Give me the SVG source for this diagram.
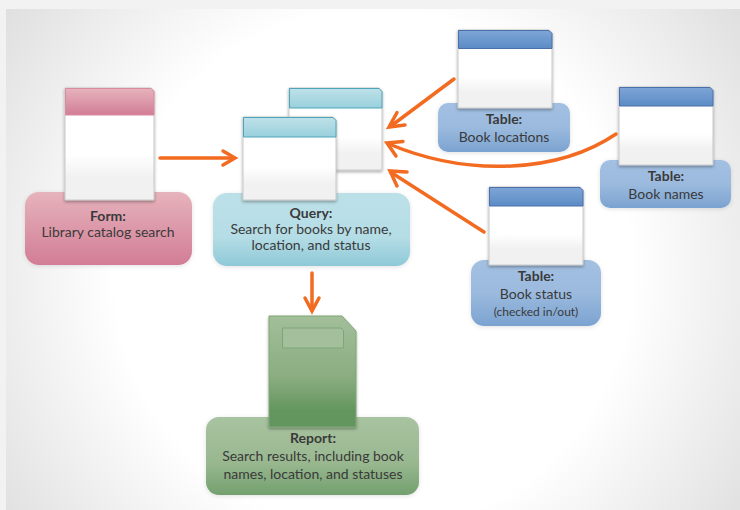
<svg xmlns="http://www.w3.org/2000/svg" width="740" height="510" viewBox="0 0 740 510">
<style>
text{font-family:"Lato","Open Sans","Liberation Sans",sans-serif;font-size:14px;fill:#3a3a3a;text-anchor:middle}
.b{font-weight:700}
.s{font-size:12px}
.win{fill:url(#wb);stroke:#c8c8c8;stroke-width:1;filter:url(#sh)}
.lab{filter:url(#sh2)}
.c{fill:none;stroke:#f26b21;stroke-width:3.500;stroke-linecap:round}
.h{fill:none;stroke:#f26b21;stroke-width:3.500;stroke-linecap:round;stroke-linejoin:miter}
</style>
<defs>
<radialGradient id="bg" gradientUnits="userSpaceOnUse" cx="373" cy="270" r="470">
<stop offset="0.55" stop-color="#ffffff"/><stop offset="1" stop-color="#dcdcdc"/>
</radialGradient>
<linearGradient id="wb" x1="0" y1="0" x2="0" y2="1"><stop offset="0.6" stop-color="#fff"/><stop offset="0.8" stop-color="#f1f1f1"/><stop offset="1" stop-color="#f1f1f1"/></linearGradient>
<linearGradient id="pk" x1="0" y1="0" x2="0" y2="1"><stop offset="0" stop-color="#e6b3bc"/><stop offset="1" stop-color="#d27d96"/></linearGradient>
<linearGradient id="cy" x1="0" y1="0" x2="0" y2="1"><stop offset="0" stop-color="#bde0e8"/><stop offset="0.6" stop-color="#b5dde6"/><stop offset="1" stop-color="#8ec9d7"/></linearGradient>
<linearGradient id="bl" x1="0" y1="0" x2="0" y2="1"><stop offset="0" stop-color="#a3c0e2"/><stop offset="0.5" stop-color="#9bbade"/><stop offset="1" stop-color="#7ba3d0"/></linearGradient>
<linearGradient id="blh" x1="0" y1="0" x2="0" y2="1"><stop offset="0" stop-color="#7ea5d6"/><stop offset="1" stop-color="#5b8cc6"/></linearGradient>
<linearGradient id="cyh" x1="0" y1="0" x2="0" y2="1"><stop offset="0" stop-color="#bfe1e9"/><stop offset="1" stop-color="#98d0dc"/></linearGradient>
<linearGradient id="gd" x1="0" y1="0" x2="0" y2="1"><stop offset="0" stop-color="#a2bf9a"/><stop offset="0.55" stop-color="#8aad80"/><stop offset="0.85" stop-color="#64965f"/><stop offset="1" stop-color="#64965f"/></linearGradient>
<linearGradient id="gl" x1="0" y1="0" x2="0" y2="1"><stop offset="0" stop-color="#a8c3a0"/><stop offset="0.6" stop-color="#98b78f"/><stop offset="1" stop-color="#73a06e"/></linearGradient>
<filter id="sh" x="-15%" y="-15%" width="130%" height="130%"><feDropShadow dx="0" dy="1.500" stdDeviation="1.500" flood-color="#000" flood-opacity="0.35"/></filter>
<filter id="sh2" x="-10%" y="-15%" width="120%" height="130%"><feDropShadow dx="0" dy="1" stdDeviation="2" flood-color="#000" flood-opacity="0.12"/></filter>
</defs>
<g id="background">
<rect width="740" height="510" fill="#f2f2f2"/>
<rect x="6" y="9" width="734" height="501" fill="url(#bg)"/>
</g>
<g id="form">
<rect class="lab" x="25" y="192" width="167" height="73" rx="14" fill="url(#pk)"/>
<path class="win" d="M65 88H151L154 91V200H65Z"/>
<path d="M65.500 88.500H151L154 91.500V115H65.500Z" fill="url(#pk)" stroke="#d98ba2"/>
<text x="108" y="221"><tspan class="b">Form:</tspan><tspan x="108" dy="16">Library catalog search</tspan></text>
</g>
<g id="query">
<rect class="lab" x="213" y="193" width="197" height="73" rx="14" fill="url(#cy)"/>
<path class="win" d="M289 88H379L382 91V170H289Z"/>
<path d="M289.500 88.500H379L382 91.500V108H289.500Z" fill="url(#cyh)" stroke="#4ea5bb"/>
<path class="win" d="M243 117H333L336 120V200H243Z"/>
<path d="M243.500 117.500H333L336 120.500V137H243.500Z" fill="url(#cyh)" stroke="#4ea5bb"/>
<text x="311" y="218"><tspan class="b">Query:</tspan><tspan x="311" dy="16">Search for books by name,</tspan><tspan x="311" dy="16">location, and status</tspan></text>
</g>
<g id="table-locations">
<rect class="lab" x="438" y="103" width="132" height="49" rx="10" fill="url(#bl)"/>
<path class="win" d="M458 30H549L552 33V108H458Z"/>
<path d="M458.500 30.500H549L552 33.500V48.500H458.500Z" fill="url(#blh)" stroke="#4b6fa8"/>
<text x="504" y="124"><tspan class="b">Table:</tspan><tspan x="504" dy="18">Book locations</tspan></text>
</g>
<g id="table-names">
<rect class="lab" x="600" y="160" width="131" height="48" rx="10" fill="url(#bl)"/>
<path class="win" d="M619 87H710L713 90V165H619Z"/>
<path d="M619.500 87.500H710L713 90.500V106H619.500Z" fill="url(#blh)" stroke="#4b6fa8"/>
<text x="666" y="181"><tspan class="b">Table:</tspan><tspan x="666" dy="18">Book names</tspan></text>
</g>
<g id="table-status">
<rect class="lab" x="471" y="260" width="130" height="66" rx="13" fill="url(#bl)"/>
<path class="win" d="M489 187H580L583 190V265H489Z"/>
<path d="M489.500 187.500H580L583 190.500V206H489.500Z" fill="url(#blh)" stroke="#4b6fa8"/>
<text x="536" y="281"><tspan class="b">Table:</tspan><tspan x="536" dy="18">Book status</tspan><tspan class="s" x="536" dy="17">(checked in/out)</tspan></text>
</g>
<g id="report">
<rect class="lab" x="206" y="417" width="213" height="78" rx="13" fill="url(#gl)"/>
<path d="M269 316H342L356 331V427H269Z" fill="url(#gd)" stroke="#7fa677" filter="url(#sh)"/>
<path d="M282.500 328H341L343.500 330.500V348H282.500Z" fill="#a4bf9b" stroke="#7fa677"/>
<text x="313" y="443"><tspan class="b">Report:</tspan><tspan x="313" dy="18">Search results, including book</tspan><tspan x="313" dy="18">names, location, and statuses</tspan></text>
</g>
<g id="connectors">
<path class="c" d="M160 158H233"/>
<path class="h" d="M223 151L235 158L223 165"/>
<path class="c" d="M454 79L391 126"/>
<path class="h" d="M397 112.500L389 127L405 125"/>
<path class="c" d="M616 134C560 172 470 178 389 144"/>
<path class="h" d="M403 141.500L387 143L396 156"/>
<path class="c" d="M484 232L392 173"/>
<path class="h" d="M407 172L390 171L397 186"/>
<path class="c" d="M312 273V310"/>
<path class="h" d="M305 298L312 311L319 298"/>
</g>
</svg>
